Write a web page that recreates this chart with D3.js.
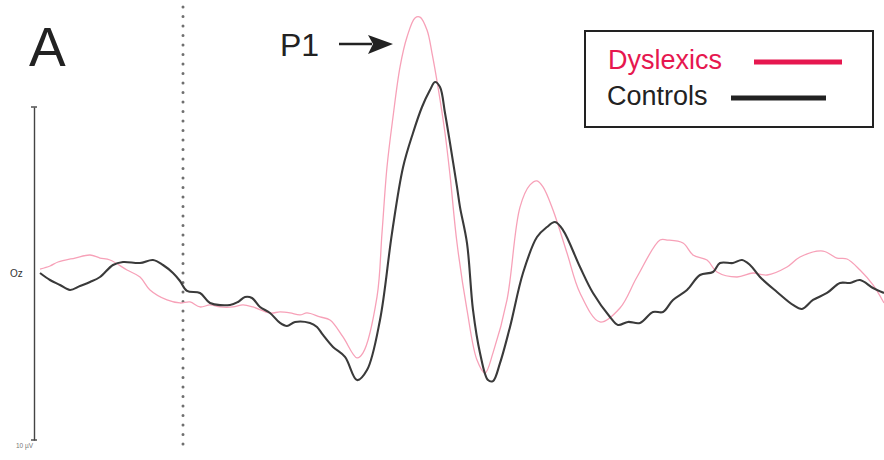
<!DOCTYPE html>
<html>
<head>
<meta charset="utf-8">
<script src="https://cdn.jsdelivr.net/npm/d3@7"></script>
<style>
  body { margin: 0; background: #fff; }
  svg { display: block; font-family: "Liberation Sans", Arial, sans-serif; }
</style>
</head>
<body>
<div id="graph"></div>
<script>
var svgWidth = 884;
var svgHeight = 460;

// ERP at Oz, time in ms from stimulus onset, amplitude in µV
var dyslexicsMs = [-57.2, -53.2, -50, -43.2, -37.2, -33.2, -29.2, -22.4, -17.2, -13.2, -6.4, -1.2, 2.8, 6.8, 10.8, 14.8, 20, 24, 28, 34.8, 38.8, 42.8, 46.8, 49.6, 54.8, 58.8, 64, 69.6, 72, 77.6, 79.6, 81.6, 84, 86.8, 89.6, 92.8, 94.8, 97.6, 99.6, 102, 104.8, 106.8, 109.6, 113.6, 117.6, 120.8, 124, 129.6, 134.8, 138.8, 141.6, 144, 148, 153.6, 158.8, 166.8, 174.8, 181.6, 190.8, 193.6, 200, 204, 209.6, 213.6, 221.6, 228, 233.6, 241.6, 246.8, 256, 261.6, 265.6, 270.8, 276, 280.4];
var dyslexicsUv = [0.27, 0.45, 0.69, 0.93, 1.11, 0.93, 0.81, 0.21, -0.21, -0.99, -1.59, -1.77, -1.71, -2.01, -1.89, -2.01, -2.01, -1.89, -2.01, -2.37, -2.31, -2.37, -2.49, -2.37, -2.61, -2.79, -3.81, -5.07, -4.77, -1.41, 2.43, 6.4, 9.4, 12.4, 14.2, 15.35, 15.4, 14.62, 13.24, 11.2, 8.44, 5.92, 1.83, -2.19, -5.2, -5.98, -4.77, -1.59, 3.99, 5.32, 5.56, 5.2, 3.81, 1.23, -1.17, -2.91, -2.07, -0.21, 2.01, 2.01, 1.83, 1.11, 0.81, 0.09, -0.21, 0.03, -0.09, 0.39, 0.99, 1.35, 0.93, 0.87, 0.21, -0.69, -1.77];

var controlsMs = [-57.2, -53.2, -49.2, -45.2, -41.2, -37.2, -33.2, -28, -24, -17.2, -12, -8, -4, -1.2, 1.6, 6.8, 10.8, 18.8, 22, 24.8, 27.6, 30.8, 34.8, 38.8, 41.6, 44.8, 50.8, 53.6, 56, 60, 64.8, 69.6, 73.6, 78.8, 83.6, 88, 92, 95.6, 98.8, 100.8, 102.8, 104.8, 106.8, 109.6, 110.8, 113.6, 116, 118.8, 122, 124, 126.8, 130.8, 136, 141.6, 145.6, 148.8, 152, 158.8, 164, 170.8, 174, 178, 182.8, 188, 192, 196, 201.6, 206.8, 212, 214.8, 220, 223.6, 226.8, 230.8, 237.6, 244, 247.6, 252, 257.6, 262.8, 266.8, 270.8, 276, 280.4];
var controlsUv = [0.03, -0.39, -0.69, -0.99, -0.75, -0.51, -0.21, 0.51, 0.69, 0.63, 0.81, 0.51, 0.03, -0.45, -1.05, -1.17, -1.77, -1.89, -1.71, -1.41, -1.47, -2.01, -2.37, -2.97, -3.15, -2.91, -2.97, -3.21, -3.69, -4.41, -5.01, -6.4, -5.8, -2.79, 2.43, 6.37, 8.44, 10.0, 11.02, 11.5, 11.2, 9.64, 7.84, 5.2, 3.99, 1.83, -2.19, -4.77, -6.4, -6.46, -5.38, -3.21, 0.03, 2.19, 2.79, 3.09, 2.61, 0.39, -1.17, -2.61, -3.09, -2.91, -2.97, -2.31, -2.31, -1.59, -0.99, -0.09, 0.09, 0.63, 0.63, 0.81, 0.51, -0.21, -1.11, -1.89, -2.13, -1.59, -1.17, -0.57, -0.57, -0.39, -0.87, -1.17];

var seriesNames = ["Dyslexics", "Controls"];
var channelLabel = "Oz";
var scaleLabel = "10 µV";
var panelLabel = "A";
var peakLabel = "P1";

var timeDomain = [-59.6, 280.4];
var ampDomain = [-10, 10];

var svg = d3.select("#graph")
	.append("svg")
	.attr("width", svgWidth)
	.attr("height", svgHeight);

var x = d3.scaleLinear().domain(timeDomain).range([34, 884]);
var y = d3.scaleLinear().domain(ampDomain).range([440, 107]);

function toPoints(ms, uv) {
	return ms.map((t, i) => [t, uv[i]]);
}

// stimulus onset (dotted)
svg.append("line")
	.attr("x1", x(0)).attr("x2", x(0))
	.attr("y1", 7).attr("y2", 453)
	.attr("stroke", "#6f6f6f")
	.attr("stroke-width", 3)
	.attr("stroke-linecap", "round")
	.attr("stroke-dasharray", "0,9.5");

// amplitude axis, no ticks, capped ends
var yAxis = svg.append("g")
	.attr("transform", "translate(" + x(timeDomain[0]) + ",0)")
	.call(d3.axisLeft(y).tickValues([]).tickSizeOuter(0));
yAxis.select(".domain").attr("stroke", "#444").attr("stroke-width", 1.4);
yAxis.selectAll(".cap")
	.data(ampDomain)
	.enter()
	.append("line")
	.attr("x1", -3).attr("x2", 3)
	.attr("y1", d => y(d)).attr("y2", d => y(d))
	.attr("stroke", "#444")
	.attr("stroke-width", 1.4);

svg.append("text")
	.attr("x", 10).attr("y", y(0) + 3)
	.attr("font-size", 10)
	.attr("fill", "#333")
	.text(channelLabel);

svg.append("text")
	.attr("x", 16).attr("y", 448)
	.attr("font-size", 6.5)
	.attr("fill", "#777")
	.text(scaleLabel);

var line = d3.line()
	.x(d => x(d[0]))
	.y(d => y(d[1]))
	.curve(d3.curveCatmullRom.alpha(0.5));

svg.append("path")
	.datum(toPoints(dyslexicsMs, dyslexicsUv))
	.attr("d", line)
	.attr("fill", "none")
	.attr("stroke", "#f7a1b8")
	.attr("stroke-width", 1.3);

svg.append("path")
	.datum(toPoints(controlsMs, controlsUv))
	.attr("d", line)
	.attr("fill", "none")
	.attr("stroke", "#3a3a3a")
	.attr("stroke-width", 2.1)
	.attr("stroke-linejoin", "round");

// panel letter
svg.append("text")
	.attr("x", 29).attr("y", 66)
	.attr("font-size", 55)
	.attr("fill", "#222")
	.text(panelLabel);

// P1 label with arrow
svg.append("text")
	.attr("x", 280).attr("y", 56)
	.attr("font-size", 32)
	.attr("fill", "#222")
	.text(peakLabel);

svg.append("line")
	.attr("x1", 339).attr("x2", 372)
	.attr("y1", 44).attr("y2", 44)
	.attr("stroke", "#222")
	.attr("stroke-width", 2.5);
svg.append("path")
	.attr("d", "M393,44 L368,35 L373,44 L368,54 Z")
	.attr("fill", "#222");

// legend
var legend = svg.append("g");
legend.append("rect")
	.attr("x", 585).attr("y", 31)
	.attr("width", 288).attr("height", 96)
	.attr("fill", "#fff")
	.attr("stroke", "#222")
	.attr("stroke-width", 2);

var legendColors = ["#e6174f", "#222"];
var legendText = [{ x: 608, y: 69 }, { x: 607, y: 105 }];
var legendLine = [{ x1: 754, x2: 842, y: 62 }, { x1: 731, x2: 826, y: 98 }];

legend.selectAll(".ltext")
	.data(seriesNames)
	.enter()
	.append("text")
	.attr("x", (d, i) => legendText[i].x)
	.attr("y", (d, i) => legendText[i].y)
	.attr("font-size", 27)
	.attr("fill", (d, i) => legendColors[i])
	.text(d => d);

legend.selectAll(".lline")
	.data(seriesNames)
	.enter()
	.append("line")
	.attr("x1", (d, i) => legendLine[i].x1)
	.attr("x2", (d, i) => legendLine[i].x2)
	.attr("y1", (d, i) => legendLine[i].y)
	.attr("y2", (d, i) => legendLine[i].y)
	.attr("stroke", (d, i) => legendColors[i])
	.attr("stroke-width", 5);
</script>
</body>
</html>
